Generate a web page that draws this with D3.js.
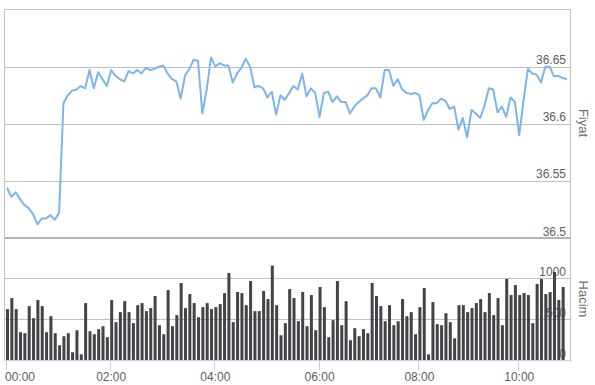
<!DOCTYPE html>
<meta charset="utf-8">
<style>
body { margin: 0; background: #fff; }
text { font-family: "Liberation Sans", Arial, sans-serif; }
</style>
<svg width="595" height="385"></svg>
<script src="https://d3js.org/d3.v7.min.js"></script>
<script>

// 5-minute price (Fiyat) and volume (Hacim) series
var prices = [
  36.544,36.536,36.540,36.534,36.529,36.526,36.521,36.512,36.517,36.517,36.520,36.516,36.522,
  36.618,36.625,36.629,36.630,36.633,36.631,36.647,36.631,36.645,36.639,36.633,36.647,36.642,
  36.639,36.637,36.646,36.644,36.647,36.644,36.649,36.647,36.648,36.650,36.651,36.644,36.639,
  36.637,36.622,36.642,36.648,36.656,36.655,
  36.609,36.630,36.658,36.650,36.653,36.651,36.651,36.636,36.644,36.649,36.657,36.650,36.632,
  36.633,36.631,36.623,36.628,36.608,36.625,36.621,36.627,36.633,36.630,36.644,36.624,36.631,
  36.627,36.606,36.627,36.628,36.619,36.624,36.619,36.619,36.609,36.615,36.619,36.622,36.625,
  36.631,36.631,36.623,36.647,36.647,36.633,36.639,36.630,36.627,36.626,
  36.627,36.625,36.6035,36.612,36.618,36.618,36.622,36.620,36.613,36.615,36.595,36.605,36.588,
  36.612,36.609,36.605,36.616,36.631,36.630,36.610,36.615,36.606,36.623,36.619,36.590,36.621,
  36.648,36.644,36.643,36.636,36.650,36.650,36.6415,36.642,36.640,36.639
];

var volumes = [
  620,755,620,339,327,657,510,731,657,339,
  535,327,180,290,327,94,363,69,694,351,
  314,376,412,278,731,461,584,718,584,449,
  669,694,596,633,780,424,314,853,412,547,
  939,633,804,694,522,645,694,620,645,682,
  816,1061,461,829,816,669,963,596,596,841,
  743,1151,669,302,449,865,755,473,829,412,
  792,363,890,645,278,486,963,424,718,241,
  388,290,376,327,939,780,657,473,669,424,
  473,743,535,584,314,645,878,69,706,437,
  424,571,461,265,669,669,584,633,694,743,
  584,816,547,755,424,988,792,914,792,816,
  792,449,927,988,804,829,1073,731,890
];

var timeLabels = ["00:00","02:00","04:00","06:00","08:00","10:00"];
var timeIndex = [0, 24, 48, 72, 95, 118];

var priceTicks = [36.5, 36.55, 36.6, 36.65];
var volumeTicks = [0, 500, 1000];

var svg = d3.select("svg");

var plotLeft = 4.5, plotRight = 570.5, plotTop = 9.5;
var priceBottom = 238, volBottom = 360.5;

var x = d3.scaleLinear().domain([0, 129]).range([6, 566]);
var yP = d3.scaleLinear().domain([36.5, 36.7]).range([priceBottom, plotTop]);
var yV = d3.scaleLinear().domain([0, 1000]).range([360, 278]);

// gridlines - price
svg.append("g").selectAll("line")
  .data(priceTicks.filter(function(d){ return d > 36.5; }))
  .join("line")
    .attr("x1", plotLeft).attr("x2", plotRight)
    .attr("y1", function(d){ return Math.round(yP(d)) + 0.5; })
    .attr("y2", function(d){ return Math.round(yP(d)) + 0.5; })
    .attr("stroke", "#c0c0c0");

// gridlines - volume
svg.append("g").selectAll("line")
  .data(volumeTicks.filter(function(d){ return d > 0; }))
  .join("line")
    .attr("x1", plotLeft).attr("x2", plotRight)
    .attr("y1", function(d){ return Math.round(yV(d)) + 0.5; })
    .attr("y2", function(d){ return Math.round(yV(d)) + 0.5; })
    .attr("stroke", "#c0c0c0");

// frame
svg.append("line").attr("x1", plotLeft).attr("x2", plotRight).attr("y1", plotTop).attr("y2", plotTop).attr("stroke", "#c0c0c0");
svg.append("line").attr("x1", plotLeft).attr("x2", plotLeft).attr("y1", plotTop).attr("y2", volBottom).attr("stroke", "#c0c0c0");
svg.append("line").attr("x1", plotRight).attr("x2", plotRight).attr("y1", plotTop).attr("y2", volBottom + 1).attr("stroke", "#c0c0c0");
svg.append("line").attr("x1", plotLeft).attr("x2", plotRight).attr("y1", priceBottom).attr("y2", priceBottom)
  .attr("stroke", "#b4b4b4").attr("stroke-width", 2);
svg.append("line").attr("x1", plotLeft).attr("x2", plotRight).attr("y1", volBottom).attr("y2", volBottom)
  .attr("stroke", "#c0d0e0");

// y labels (right, inside)
svg.append("g").selectAll("text")
  .data(priceTicks)
  .join("text")
    .attr("x", 566)
    .attr("y", function(d){ return yP(d) - 2.5; })
    .attr("text-anchor", "end")
    .attr("font-size", 12)
    .attr("fill", "#606060")
    .text(function(d){ return d3.format("")(d); });

svg.append("g").selectAll("text")
  .data(volumeTicks)
  .join("text")
    .attr("x", 566)
    .attr("y", function(d){ return yV(d) - 2.5; })
    .attr("text-anchor", "end")
    .attr("font-size", 12)
    .attr("fill", "#606060")
    .text(function(d){ return d; });

// volume bars
svg.append("g").selectAll("rect")
  .data(volumes)
  .join("rect")
    .attr("x", function(d, i){ return x(i); })
    .attr("width", 3)
    .attr("y", function(d){ return yV(d); })
    .attr("height", function(d){ return 360 - yV(d); })
    .attr("fill", "#434348");

// price line
var line = d3.line()
  .x(function(d, i){ return x(i) + 1; })
  .y(function(d){ return yP(d); });

svg.append("path")
  .datum(prices)
  .attr("d", line)
  .attr("fill", "none")
  .attr("stroke", "#7cb5ec")
  .attr("stroke-width", 2)
  .attr("stroke-linejoin", "round");

// x ticks + labels
var xt = svg.append("g");
xt.selectAll("line")
  .data(timeIndex)
  .join("line")
    .attr("x1", function(d){ return Math.round(x(d)) + 0.5; })
    .attr("x2", function(d){ return Math.round(x(d)) + 0.5; })
    .attr("y1", volBottom).attr("y2", 370)
    .attr("stroke", "#c0d0e0");

xt.selectAll("text")
  .data(timeIndex)
  .join("text")
    .attr("x", function(d, i){ return i == 0 ? 5 : x(d) + 1; })
    .attr("y", 381)
    .attr("text-anchor", function(d, i){ return i == 0 ? "start" : "middle"; })
    .attr("font-size", 12)
    .attr("fill", "#606060")
    .text(function(d, i){ return timeLabels[i]; });

// axis titles
svg.append("text")
  .attr("transform", "translate(579,123) rotate(90)")
  .attr("text-anchor", "middle")
  .attr("font-size", 13)
  .attr("fill", "#707070")
  .text("Fiyat");

svg.append("text")
  .attr("transform", "translate(579,299) rotate(90)")
  .attr("text-anchor", "middle")
  .attr("font-size", 13)
  .attr("fill", "#707070")
  .text("Hacim");

</script>
